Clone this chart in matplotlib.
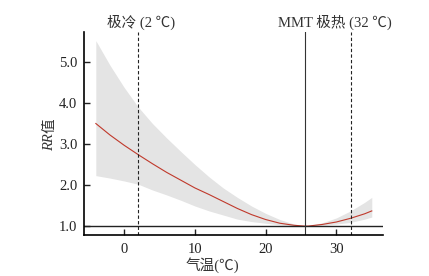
import matplotlib
matplotlib.use("Agg")
import matplotlib.pyplot as plt

plt.rcParams['font.family'] = ['Liberation Serif', 'Noto Sans CJK SC']

temps = [-4, -2, 0, 2, 4, 6, 8, 10, 12, 14, 16, 18, 20, 22, 24, 25.5, 26, 28, 30, 32, 34, 35]
rr = [3.50, 3.22, 2.97, 2.74, 2.52, 2.31, 2.12, 1.93, 1.77, 1.60, 1.43, 1.28, 1.16, 1.07, 1.02, 1.00, 1.00, 1.04, 1.10, 1.19, 1.30, 1.37]
rr_upper = [5.52, 4.92, 4.38, 3.90, 3.50, 3.15, 2.82, 2.50, 2.20, 1.93, 1.70, 1.49, 1.31, 1.16, 1.05, 1.00, 1.01, 1.08, 1.20, 1.37, 1.58, 1.70]
rr_lower = [2.23, 2.17, 2.10, 2.02, 1.88, 1.76, 1.63, 1.49, 1.37, 1.27, 1.17, 1.11, 1.07, 1.03, 1.01, 1.00, 1.00, 1.02, 1.05, 1.09, 1.17, 1.22]

cold_t = 2
mmt_t = 25.5
hot_t = 32
xticks = [0, 10, 20, 30]
yticks = [1.0, 2.0, 3.0, 4.0, 5.0]

fig = plt.figure(figsize=(4.29, 2.76), dpi=100)
ax = fig.add_axes([0.196, 0.1496, 0.697, 0.7344])

ax.fill_between(temps, rr_lower, rr_upper, color='#e4e4e4', lw=0)
ax.plot(temps, rr, color='#c0392b', lw=0.8)
ax.axhline(1.0, color='#222222', lw=1.0)
ax.axvline(cold_t, color='#222222', lw=0.8, ls=(0, (3, 2)))
ax.axvline(hot_t, color='#222222', lw=0.8, ls=(0, (3, 2)))
ax.axvline(mmt_t, color='#333333', lw=0.8)

ax.set_xlim(-5.66, 36.6)
ax.set_ylim(0.79, 5.73)
ax.set_xticks(xticks)
ax.set_yticks(yticks)
ax.set_yticklabels([f"{v:.1f}" for v in yticks])
ax.tick_params(direction='in', length=4, width=1.0, labelsize=10.5, colors='#222222')
ax.tick_params(axis='x', pad=6)
ax.tick_params(axis='y', pad=5)
for s in ['top', 'right']:
    ax.spines[s].set_visible(False)
for s in ['left', 'bottom']:
    ax.spines[s].set_linewidth(1.2)

ax.set_xlabel('气温(℃)', fontsize=10.5, color='#333333')
ax.xaxis.set_label_coords(0.43, -0.11)

# y label: italic RR + 值
ax.text(-0.115, 0.5, 'RR', transform=ax.transAxes, rotation=90, fontsize=10.5,
        fontstyle='italic', color='#333333', ha='center', va='top')
ax.text(-0.115, 0.5, '值', transform=ax.transAxes, rotation=90, fontsize=10.5,
        color='#333333', ha='center', va='bottom')

ax.text(-2.4, 1.01, '极冷 (2 ℃)', transform=ax.get_xaxis_transform(),
        ha='left', va='bottom', fontsize=10.5, color='#333333')
ax.text(21.8, 1.01, 'MMT 极热 (32 ℃)', transform=ax.get_xaxis_transform(),
        ha='left', va='bottom', fontsize=10.5, color='#333333')

fig.savefig('out.png', dpi=100)
